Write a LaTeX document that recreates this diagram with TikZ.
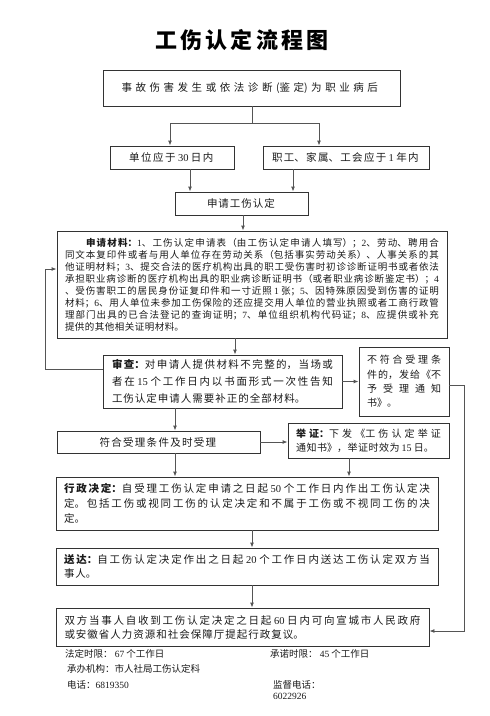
\documentclass[tikz,border=0pt]{standalone}
\usepackage{fontspec}
\setmainfont{Noto Sans CJK SC}
\newfontfamily\lat{Liberation Serif}
\usetikzlibrary{arrows.meta}
\XeTeXlinebreaklocale "zh"
\XeTeXlinebreakskip=0pt plus 1pt
\setlength\parindent{0pt}
\newcommand\nn[1]{{\lat #1}}
\newcommand\spreadline{\XeTeXlinebreakskip=0pt plus 1fil\parfillskip=0pt\relax}
\newcommand\parjust[1]{\XeTeXlinebreakskip=#1 plus 3pt\relax}
\definecolor{boxc}{HTML}{333333}
\definecolor{linec}{HTML}{555555}
\definecolor{txt}{HTML}{1A1A1A}
\tikzset{
  box/.style={draw=boxc, line width=0.9pt, align=justify, inner ysep=2pt, text=txt},
  conn/.style={draw=linec, line width=0.9pt},
  arr/.style={conn, -{Latex[length=5pt,width=4pt]}},
  foot/.style={anchor=west, inner sep=0pt, text=txt, font=\fontsize{9.5}{11}\selectfont},
}
\begin{document}
\begin{tikzpicture}[x=1pt,y=-1pt]
\fill[white] (0,0) rectangle (490,716);
\useasboundingbox (0,0) rectangle (490,716);

\node[text=black, font=\fontsize{22}{26}\selectfont\bfseries, text width=177pt, align=justify, inner sep=0pt] (title) at (243.5,40) {\spreadline 工伤认定流程图};

\node[box, text width=260pt, inner xsep=18.5pt, minimum height=36pt, font=\fontsize{10.5}{13}\selectfont] (b1) at (251.5,88) {\spreadline 事故伤害发生或依法诊断(鉴定)为职业病后};

\node[box, text width=86pt, inner xsep=19pt, minimum height=23pt, font=\fontsize{10.5}{13}\selectfont] (b2a) at (172,157.5) {\spreadline 单位应于 \nn{30} 日内};

\node[box, text width=148pt, inner xsep=9pt, minimum height=23pt, font=\fontsize{10.5}{13}\selectfont] (b2b) at (346,157.5) {\spreadline 职工、家属、工会应于 \nn{1} 年内};

\node[box, text width=69pt, inner xsep=32pt, minimum height=23pt, font=\fontsize{10.5}{13}\selectfont] (b3) at (241.5,203.5) {\spreadline 申请工伤认定};

\node[box, text width=374pt, inner xsep=8pt, minimum height=107pt, font=\fontsize{9.5}{12}\selectfont] (b4) at (252,284.5) {\parjust{0.5pt}\hspace*{21pt}\textbf{申请材料：}\nn{1}、工伤认定申请表（由工伤认定申请人填写）；\nn{2}、劳动、聘用合\linebreak
同文本复印件或者与用人单位存在劳动关系（包括事实劳动关系）、人事关系的其\linebreak
他证明材料；\nn{3}、提交合法的医疗机构出具的职工受伤害时初诊诊断证明书或者依法\linebreak
承担职业病诊断的医疗机构出具的职业病诊断证明书（或者职业病诊断鉴定书）；\nn{4}\linebreak
、受伤害职工的居民身份证复印件和一寸近照 \nn{1} 张；\nn{5}、因特殊原因受到伤害的证明\linebreak
材料；\nn{6}、用人单位未参加工伤保险的还应提交用人单位的营业执照或者工商行政管\linebreak
理部门出具的已合法登记的查询证明；\nn{7}、单位组织机构代码证；\nn{8}、应提供或补充\linebreak
提供的其他相关证明材料。};

\node[box, text width=221pt, inner xsep=9pt, minimum height=53pt, font=\fontsize{10.5}{17}\selectfont] (b5) at (222.5,381.5) {\parjust{1pt}\textbf{审查：}对申请人提供材料不完整的，当场或\linebreak
者在 \nn{15} 个工作日内以书面形式一次性告知\linebreak
工伤认定申请人需要补正的全部材料。};

\node[box, text width=74pt, inner xsep=8pt, minimum height=69pt, font=\fontsize{10}{14.3}\selectfont] (b6) at (404,381.5) {\parjust{0.3pt}不符合受理条\linebreak
件的，发给《不\linebreak
予受理通知\linebreak
书》。};

\node[box, text width=118pt, inner xsep=42.5pt, minimum height=22pt, font=\fontsize{10.5}{13}\selectfont] (b7) at (158.5,442) {\spreadline 符合受理条件及时受理};

\node[box, text width=145pt, inner xsep=8pt, minimum height=35pt, font=\fontsize{10}{14}\selectfont] (b8) at (368.5,440.5) {\parjust{0.5pt}\parfillskip=0pt\relax\textbf{举证：}下发《工伤认定举证\linebreak
通知书》，举证时效为 \nn{15} 日。};

\node[box, text width=366pt, inner xsep=8pt, minimum height=53pt, font=\fontsize{10.5}{15}\selectfont] (b9) at (247,503.5) {\parjust{1pt}\textbf{行政决定：}自受理工伤认定申请之日起 \nn{50} 个工作日内作出工伤认定决\linebreak
定。包括工伤或视同工伤的认定决定和不属于工伤或不视同工伤的决\linebreak
定。};

\node[box, text width=366pt, inner xsep=8pt, minimum height=37pt, font=\fontsize{10.5}{14.5}\selectfont] (b10) at (247,566.5) {\parjust{1pt}\textbf{送达：}自工伤认定决定作出之日起 \nn{20} 个工作日内送达工伤认定双方当\linebreak
事人。};

\node[box, text width=356pt, inner xsep=8.5pt, minimum height=38pt, font=\fontsize{10.5}{14}\selectfont] (b11) at (242.5,627) {\parjust{1pt}双方当事人自收到工伤认定决定之日起 \nn{60} 日内可向宣城市人民政府\linebreak
或安徽省人力资源和社会保障厅提起行政复议。};

\node[foot] (f1) at (65,654) {法定时限： \nn{67} 个工作日};
\node[foot] (f2) at (270,654) {承诺时限： \nn{45} 个工作日};
\node[foot] (f3) at (67,669) {承办机构：市人社局工伤认定科};
\node[foot] (f4) at (67,685) {电话：\nn{6819350}};
\node[foot] (f5) at (273,685) {监督电话：};
\node[foot] (f6) at (273,696) {\nn{6022926}};

% connectors
\coordinate (j1) at (252,123);
\coordinate (jl) at (170,123);
\coordinate (jr) at (319,123);
\draw[conn] (b1.south -| j1) -- (j1);
\draw[conn] (jl) -- (jr);
\draw[arr] (jl) -- (jl |- b2a.north);
\draw[arr] (jr) -- (jr |- b2b.north);
\draw[arr] ([xshift=18pt]b2a.south) -- ([xshift=18pt]b2a.south |- b3.north);
\draw[arr] ([xshift=-53pt]b2b.south) -- ([xshift=-53pt]b2b.south |- b3.north);
\draw[arr] ([xshift=1.5pt]b3.south) -- ([xshift=1.5pt]b3.south |- b4.north);
\draw[arr] ([xshift=-17pt]b4.south) -- ([xshift=-17pt]b4.south |- b5.north);
\draw[arr] (b5.east) -- (b6.west);
\coordinate (rc) at (464,385);
\draw[arr] ([yshift=-3.5pt]b6.east) -- (rc) |- ([yshift=-4pt]b11.east);
\coordinate (lc) at (45,369);
\draw[arr] ([yshift=12.5pt]b5.west) -- (lc) |- ([yshift=15.5pt]b4.west);
\draw[arr] ([xshift=-47.5pt]b5.south) -- ([xshift=-47.5pt]b5.south |- b7.north);
\draw[arr] (b7.east) -- (b7.east -| b8.west);
\draw[arr] ([xshift=16.5pt]b7.south) -- ([xshift=16.5pt]b7.south |- b9.north);
\draw[arr] ([xshift=-19.5pt]b8.south) -- ([xshift=-19.5pt]b8.south |- b9.north);
\draw[arr] ([xshift=5pt]b9.south) -- ([xshift=5pt]b9.south |- b10.north);
\draw[arr] ([xshift=5pt]b10.south) -- ([xshift=5pt]b10.south |- b11.north);
\end{tikzpicture}
\end{document}
